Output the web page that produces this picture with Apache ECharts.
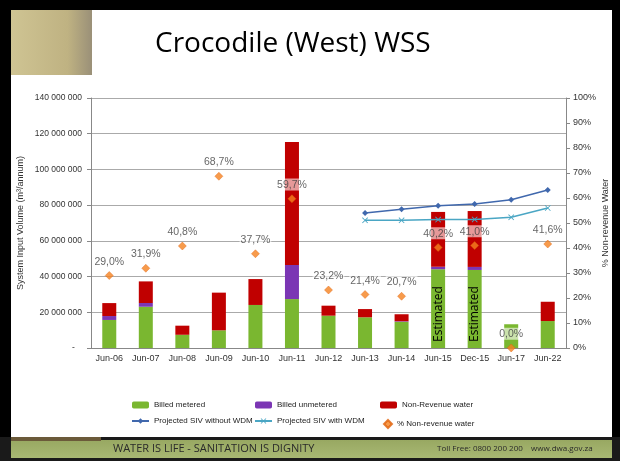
<!DOCTYPE html>
<html>
<head>
<meta charset="utf-8">
<script src="https://cdn.jsdelivr.net/npm/echarts@6/dist/echarts.min.js"></script>
<style>
  html, body { margin: 0; padding: 0; background: #fff; }
  #chart { width: 620px; height: 461px; }
</style>
</head>
<body>
<div id="chart"></div>
<script>
// values
var categories = ['Jun-06','Jun-07','Jun-08','Jun-09','Jun-10','Jun-11','Jun-12','Jun-13','Jun-14','Jun-15','Dec-15','Jun-17','Jun-22'];
var billedMetered   = [15700000, 23100000, 7400000, 9900000, 24100000, 27400000, 18100000, 17200000, 14700000, 44100000, 43700000, 13300000, 15100000];
var billedUnmetered = [2200000, 2100000, 0, 0, 0, 19100000, 0, 0, 300000, 1400000, 1700000, 0, 0];
var nonRevenue      = [7250000, 12100000, 5100000, 21100000, 14500000, 68900000, 5600000, 4600000, 3900000, 30700000, 31300000, 0, 10800000];
var sivWithoutWdm   = [null, null, null, null, null, null, null, 75600000, 77700000, 79700000, 80600000, 83000000, 88500000];
var sivWithWdm      = [null, null, null, null, null, null, null, 71500000, 71500000, 71900000, 72000000, 73200000, 78400000];
var pctNonRevenue   = [29.0, 31.9, 40.8, 68.7, 37.7, 59.7, 23.2, 21.4, 20.7, 40.2, 41.0, 0.0, 41.6];
var estimatedCats   = ['Jun-15', 'Dec-15'];

var narrow = '"Liberation Sans Narrow", "Liberation Sans", sans-serif';

var chart = echarts.init(document.getElementById('chart'), null, {renderer: 'canvas'});

function fmtSpace(v){
  if(v === 0) return '-   ';
  return String(v).replace(/\B(?=(\d{3})+(?!\d))/g, ' ');
}

var meteredData = billedMetered.map(function(v, i){
  if(estimatedCats.indexOf(categories[i]) >= 0){
    return {
      value: v,
      label: {
        show: true, formatter: 'Estimated', position: 'insideBottom', distance: 6,
        rotate: 90, align: 'left', verticalAlign: 'middle',
        color: '#000', fontSize: 12, fontFamily: '"Open Sans", sans-serif'
      }
    };
  }
  return v;
});

var legendText = {fontSize: 8, color: '#222', fontFamily: narrow};

var option = {
  animation: false,
  backgroundColor: '#fff',
  title: {
    text: 'Crocodile (West) WSS',
    left: 150, top: 25,
    textStyle: {fontSize: 28, fontWeight: 'normal', color: '#000', fontFamily: '"Open Sans", sans-serif'}
  },
  graphic: [
    {type: 'rect', shape: {x: 0, y: 0, width: 11, height: 461}, style: {fill: '#000'}, silent: true},
    {type: 'rect', shape: {x: 0, y: 0, width: 620, height: 10}, style: {fill: '#000'}, silent: true},
    {type: 'rect', shape: {x: 612, y: 0, width: 8, height: 461}, style: {fill: '#000'}, silent: true},
    {type: 'rect', shape: {x: 0, y: 437, width: 620, height: 24}, style: {fill: '#1a1a1a'}, silent: true},
    {type: 'rect', shape: {x: 11, y: 440, width: 601, height: 18},
      style: {fill: new echarts.graphic.LinearGradient(0, 0, 0, 1, [{offset: 0, color: '#98a862'}, {offset: 1, color: '#a8b873'}])}, silent: true},
    {type: 'rect', shape: {x: 11, y: 437, width: 90, height: 4},
      style: {fill: '#6b5a3a'}, silent: true},
    {type: 'rect', shape: {x: 11, y: 10, width: 81, height: 65},
      style: {fill: new echarts.graphic.LinearGradient(0, 0, 1, 0, [{offset: 0, color: '#cfc493'}, {offset: 0.7, color: '#bfb282'}, {offset: 1, color: '#9a9078'}])}, silent: true},
    {type: 'text', left: 113, top: 443, style: {text: 'WATER IS LIFE - SANITATION IS DIGNITY', fill: '#2a2a2a', font: '11px "Open Sans", sans-serif'}, silent: true},
    {type: 'text', left: 437, top: 445, style: {text: 'Toll Free: 0800 200 200', fill: '#2a2a2a', font: '8px "Open Sans", sans-serif'}, silent: true},
    {type: 'text', left: 531, top: 445, style: {text: 'www.dwa.gov.za', fill: '#2a2a2a', font: '8px "Open Sans", sans-serif'}, silent: true}
  ],
  legend: [
    {left: 131, top: 401, orient: 'vertical', itemGap: 8, itemWidth: 17, itemHeight: 7, padding: 0,
      textStyle: legendText, data: ['Billed metered', 'Projected SIV without WDM']},
    {left: 254, top: 401, orient: 'vertical', itemGap: 8, itemWidth: 17, itemHeight: 7, padding: 0,
      textStyle: legendText, data: ['Billed unmetered', 'Projected SIV with WDM']},
    {left: 380, top: 401, orient: 'vertical', itemWidth: 17, itemHeight: 7, padding: 0,
      textStyle: legendText, data: ['Non-Revenue water']},
    {left: 383, top: 419, orient: 'vertical', itemWidth: 8, itemHeight: 8, padding: 0,
      textStyle: legendText, data: [{name: '% Non-revenue water', icon: 'diamond'}]}
  ],
  grid: {left: 91, right: 54, top: 98, bottom: 113, outerBoundsMode: 'none', containLabel: false},
  xAxis: {
    type: 'category',
    data: categories,
    axisLine: {lineStyle: {color: '#888'}},
    axisTick: {length: 4, lineStyle: {color: '#888'}},
    axisLabel: {color: '#333', fontSize: 9, fontFamily: narrow, margin: 6, interval: 0}
  },
  yAxis: [
    {
      type: 'value', min: 0, max: 140000000, interval: 20000000,
      name: 'System Input Volume (m³/annum)', nameLocation: 'middle', nameGap: 66, nameMoveOverlap: false,
      nameTextStyle: {fontSize: 9, color: '#333', fontFamily: narrow},
      axisLine: {show: true, lineStyle: {color: '#888'}},
      axisTick: {show: true, length: 4, lineStyle: {color: '#888'}},
      axisLabel: {color: '#333', fontSize: 8.5, fontFamily: narrow, margin: 9, formatter: fmtSpace},
      splitLine: {lineStyle: {color: '#aaa'}}
    },
    {
      type: 'value', min: 0, max: 100, interval: 10,
      name: '% Non-revenue Water', nameLocation: 'middle', nameGap: 35, nameMoveOverlap: false,
      nameTextStyle: {fontSize: 9, color: '#333', fontFamily: narrow},
      axisLine: {show: true, lineStyle: {color: '#888'}},
      axisTick: {show: true, length: 4, lineStyle: {color: '#888'}},
      axisLabel: {color: '#333', fontSize: 9, fontFamily: narrow, margin: 7, formatter: '{value}%'},
      splitLine: {show: false}
    }
  ],
  series: [
    {name: 'Billed metered', type: 'bar', stack: 'siv', barWidth: 14, itemStyle: {color: '#7ab730'}, data: meteredData},
    {name: 'Billed unmetered', type: 'bar', stack: 'siv', barWidth: 14, itemStyle: {color: '#7b36b4'}, data: billedUnmetered},
    {name: 'Non-Revenue water', type: 'bar', stack: 'siv', barWidth: 14, itemStyle: {color: '#c00000'}, data: nonRevenue},
    {name: 'Projected SIV without WDM', type: 'line', data: sivWithoutWdm, symbol: 'diamond', symbolSize: 6,
      lineStyle: {color: '#4068ad', width: 1.5}, itemStyle: {color: '#4068ad'}, z: 4},
    {name: 'Projected SIV with WDM', type: 'line', data: sivWithWdm,
      symbol: 'path://M0,1L1,0L5,4L9,0L10,1L6,5L10,9L9,10L5,6L1,10L0,9L4,5Z', symbolSize: 6,
      lineStyle: {color: '#4aa6c4', width: 1.5}, itemStyle: {color: '#4aa6c4'}, z: 4},
    {name: '% Non-revenue water', type: 'scatter', yAxisIndex: 1, data: pctNonRevenue,
      symbol: 'diamond', symbolSize: 8, itemStyle: {color: '#f5821f', borderColor: '#e0600a', borderWidth: 0.5}, z: 5,
      label: {
        show: true, position: 'top', distance: 4,
        formatter: function(p){ return p.value.toFixed(1).replace('.', ',') + '%'; },
        color: '#404040', fontSize: 10.5, fontFamily: narrow,
        backgroundColor: 'rgba(255,255,255,0.75)', padding: [1, 1, 0, 1]
      }}
  ]
};

chart.setOption(option);
</script>
</body>
</html>
